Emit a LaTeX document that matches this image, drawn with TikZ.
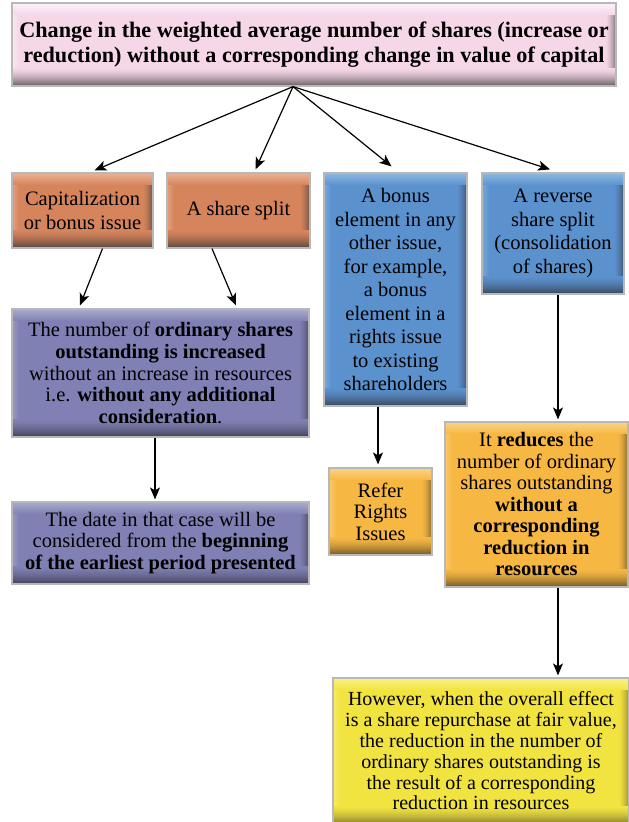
\documentclass[tikz,border=0pt]{standalone}
\usepackage{fontspec}
\setmainfont{LiberationSerif}[Extension=.ttf, UprightFont=*-Regular, BoldFont=*-Bold, ItalicFont=*-Italic, BoldItalicFont=*-BoldItalic]
\usetikzlibrary{arrows.meta,calc}
\definecolor{pinkB}{HTML}{F5D7E8}\definecolor{pinkL}{HTML}{FDF1F8}\definecolor{pinkD}{HTML}{6E6468}
\definecolor{orB}{HTML}{D6845C}\definecolor{orL}{HTML}{E9B394}\definecolor{orD}{HTML}{5E4A40}
\definecolor{blB}{HTML}{5B92CE}\definecolor{blL}{HTML}{8FB8E2}\definecolor{blD}{HTML}{3A4A60}
\definecolor{puB}{HTML}{8080B4}\definecolor{puL}{HTML}{ABABCF}\definecolor{puD}{HTML}{45455E}
\definecolor{oyB}{HTML}{F6B843}\definecolor{oyL}{HTML}{FBD387}\definecolor{oyD}{HTML}{7A5E28}
\definecolor{yeB}{HTML}{F2E440}\definecolor{yeL}{HTML}{FAF183}\definecolor{yeD}{HTML}{8A8232}
\tikzset{
  box/.style n args={3}{draw=black!28, line width=1.2pt, fill=#1, inner sep=0pt,
    align=center, font=\rmfamily\fontsize{20.5}{23.5}\selectfont,
    path picture={
      \foreach \i in {0,...,9}{
        \pgfmathtruncatemacro\p{75*(1-\i/10)^1.5}
        \fill[#3!\p!#1] ([xshift=-\i pt-1.05pt]path picture bounding box.north east) rectangle ([xshift=-\i pt]path picture bounding box.south east);}
      \foreach \i in {0,...,6}{
        \pgfmathtruncatemacro\p{60*(1-\i/7)}
        \fill[#2!\p!#1] ([xshift=\i pt]path picture bounding box.north west) rectangle ([xshift=\i pt+1.05pt]path picture bounding box.south west);}
      \foreach \i in {0,...,11}{
        \pgfmathtruncatemacro\p{100*(1-\i/12)}
        \fill[#2!\p!#1] ([yshift=-\i pt]path picture bounding box.north west) rectangle ([yshift=-\i pt-1.05pt]path picture bounding box.north east);}
      \foreach \i in {0,...,17}{
        \pgfmathtruncatemacro\p{100*(1-\i/18)^1.6}
        \fill[#3!\p!#1] ([yshift=\i pt]path picture bounding box.south west) rectangle ([yshift=\i pt+1.05pt]path picture bounding box.south east);}
    }},
  pinkbox/.style={box={pinkB}{pinkL}{pinkD}},
  orbox/.style={box={orB}{orL}{orD}},
  blbox/.style={box={blB}{blL}{blD}},
  pubox/.style={box={puB}{puL}{puD}, font=\rmfamily\fontsize{20.5}{21.7}\selectfont},
  oybox/.style={box={oyB}{oyL}{oyD}, font=\rmfamily\fontsize{20.5}{21.5}\selectfont},
  yebox/.style={box={yeB}{yeL}{yeD}, font=\rmfamily\fontsize{20}{20.8}\selectfont},
  arr/.style={-{Stealth[length=12pt,width=10pt,inset=3pt]}, line width=1.2pt, black}
}
\begin{document}
\begin{tikzpicture}[x=1pt,y=-1pt]
\useasboundingbox[fill=white] (0,0) rectangle (629,822);
\node[pinkbox, minimum width=604pt, minimum height=83pt, font=\rmfamily\fontsize{22.2}{25}\selectfont\bfseries] (top) at (314,44.5)
  {Change in the weighted average number of shares (increase or\\reduction) without a corresponding change in value of capital};
\node[orbox, minimum width=141pt, minimum height=75pt] (cap) at (82.5,210.5) {Capitalization\\or bonus issue};
\node[orbox, minimum width=143pt, minimum height=75pt] (split) at (238.5,210.5) {A share split};
\node[blbox, minimum width=143pt, minimum height=233pt] (bonus) at (395.5,289.5)
  {A bonus\\element in any\\other issue,\\for example,\\a bonus\\element in a\\rights issue\\to existing\\shareholders};
\node[blbox, minimum width=142pt, minimum height=121pt] (rev) at (553,233.5)
  {A reverse\\share split\\(consolidation\\of shares)};
\node[pubox, minimum width=297pt, minimum height=128pt] (num) at (160.5,373)
  {The number of \textbf{ordinary shares}\\\textbf{outstanding is increased}\\without an increase in resources\\i.e. \textbf{without any additional}\\\textbf{consideration}.};
\node[pubox, minimum width=297pt, minimum height=82pt] (date) at (160.5,543)
  {The date in that case will be\\considered from the \textbf{beginning}\\\textbf{of the earliest period presented}};
\node[oybox, minimum width=103pt, minimum height=87pt] (refer) at (380.5,511.5) {Refer\\Rights\\Issues};
\node[oybox, minimum width=183pt, minimum height=165pt] (red) at (536.5,504.5)
  {It \textbf{reduces} the\\number of ordinary\\shares outstanding\\\textbf{without a}\\\textbf{corresponding}\\\textbf{reduction in}\\\textbf{resources}};
\node[yebox, minimum width=296pt, minimum height=146pt] (fair) at (481,751)
  {However, when the overall effect\\is a share repurchase at fair value,\\the reduction in the number of\\ordinary shares outstanding is\\the result of a corresponding\\reduction in resources};
\draw[arr] ([xshift=-21pt]top.south) -- ([xshift=12pt,yshift=2pt]cap.north);
\draw[arr] ([xshift=-21pt]top.south) -- ([xshift=17pt,yshift=3pt]split.north);
\draw[arr] ([xshift=-21pt]top.south) -- ([xshift=-4pt,yshift=6pt]bonus.north);
\draw[arr] ([xshift=-21pt]top.south) -- ([xshift=-3pt,yshift=3pt]rev.north);
\draw[arr] ([xshift=20pt]cap.south) -- ([xshift=-80.5pt,yshift=3pt]num.north);
\draw[arr] ([xshift=-26.5pt]split.south) -- ([xshift=75.5pt,yshift=3pt]num.north);
\draw[arr] ([xshift=-5.5pt]num.south) -- ([xshift=-5.5pt,yshift=2pt]date.north);
\draw[arr] ([xshift=-17.5pt]bonus.south) -- ([xshift=-2.5pt,yshift=3pt]refer.north);
\draw[arr] ([xshift=5pt]rev.south) -- ([xshift=21.5pt,yshift=2pt]red.north);
\draw[arr] ([xshift=21.5pt]red.south) -- ([xshift=77pt,yshift=2pt]fair.north);
\end{tikzpicture}
\end{document}
